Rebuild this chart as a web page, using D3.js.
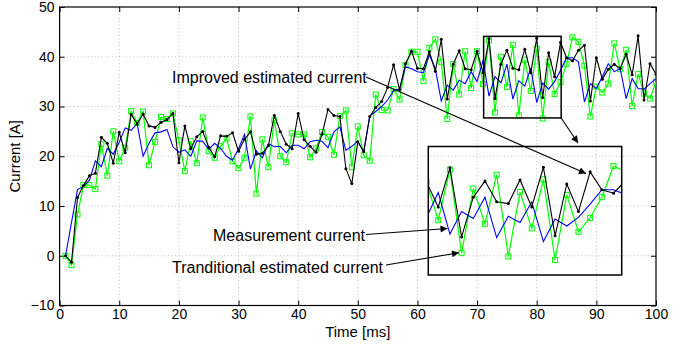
<!DOCTYPE html>
<html><head><meta charset="utf-8">
<script src="https://cdn.jsdelivr.net/npm/d3@7"></script>
<style>
body{margin:0;background:#fff}
text{font-family:"Liberation Sans",Arial,Helvetica,sans-serif;fill:#000}
</style>
</head><body>
<svg id="chart" width="695" height="346"></svg>
<script>
// ---------------- data ----------------
const time = d3.range(1, 101);
const measurement = [0,-1.9,8.3,14.2,14.2,13.4,22.4,16.1,25.0,19.0,
 21.7,29.1,26.7,29.0,18.2,22.9,27.9,27.5,28.6,23.2,
 17.0,23.0,18.6,27.8,21.0,19.7,22.0,23.6,19.0,17.6,
 19.7,28.0,12.5,23.4,17.8,27.2,20.0,18.8,24.6,24.4,
 24.4,19.8,21.6,24.9,23.9,20.3,28.1,29.2,17.8,26.0,
 20.2,19.1,32.4,29.3,29.2,33.5,31.4,38.3,41.0,41.0,
 35.1,41.8,43.5,38.9,27.5,38.5,32.4,41.1,33.7,41.1,
 34.5,43.3,28.8,40.0,33.9,42.4,28.2,39.4,33.1,41.6,
 27.6,38.9,32.5,34.9,38.5,43.9,43.0,38.2,28.0,34.0,
 32.8,34.6,42.7,37.5,41.4,30.1,36.5,32.6,31.6,35.0];
const traditional = [0,6.7,13.3,13.9,15.2,19.1,17.9,21.6,20.4,22.8,
 25.7,25.2,26.6,20.0,22.6,24.7,24.9,25.4,21.9,20.8,
 21.3,20.0,23.1,23.0,21.4,22.6,21.6,20.0,19.2,21.5,
 24.4,17.4,21.1,19.7,22.5,21.9,22.0,20.7,22.2,22.2,
 21.5,22.9,23.2,23.0,21.7,24.9,25.9,21.2,22.0,23.0,
 20.9,28.1,29.0,30.0,31.3,33.2,33.5,38.0,37.6,37.0,
 36.8,40.4,37.6,31.1,34.3,33.3,35.3,34.6,37.0,35.0,
 39.3,32.1,36.0,34.8,38.5,31.5,35.2,34.1,37.7,30.8,
 34.7,33.5,35.0,37.3,39.8,39.8,39.0,30.9,34.6,33.6,
 36.0,38.6,37.0,37.6,31.6,35.6,33.6,33.5,34.6,35.6];
const improved = [0,-1.3,11.7,14.1,16.1,16.6,23.8,22.6,18.6,24.8,
 20.7,28.4,26.5,28.5,26.1,25.8,26.8,27.4,28.6,18.7,
 26.1,21.5,23.9,25.0,21.8,19.9,24.1,24.0,24.7,21.0,
 23.4,24.9,20.4,20.6,22.1,28.2,25.0,22.4,21.5,28.6,
 23.3,22.0,20.8,24.4,29.4,28.2,28.0,17.5,14.5,22.9,
 20.9,28.0,29.8,31.0,33.8,38.4,33.4,38.6,41.1,37.7,
 37.6,41.0,37.1,43.5,31.5,38.5,41.2,37.6,37.4,41.1,
 36.8,43.6,31.6,38.5,41.3,37.7,37.4,41.5,36.8,43.7,
 31.8,40.8,36.0,42.9,39.8,39.2,41.3,42.3,31.1,39.8,
 35.5,37.5,38.5,37.6,40.5,36.4,44.2,31.3,38.6,36.5];
const xTicks = [0,10,20,30,40,50,60,70,80,90,100];
const yTicks = [-10,0,10,20,30,40,50];
const xLabel = "Time [ms]";
const yLabel = "Current [A]";
const zoomWindow = {x: [71.1, 84.1], y: [27.7, 44.1]};
const insetDomain = {x: [70.15, 86.7], y: [25.0, 47.3]};
const labelImproved = "Improved estimated current";
const labelMeasurement = "Measurement current";
const labelTraditional = "Tranditional estimated current";

// ---------------- layout ----------------
const svg = d3.select("#chart");
const M = {l: 59.6, r: 656, t: 7, b: 305.5};
const x = d3.scaleLinear().domain([0, 100]).range([M.l, M.r]);
const y = d3.scaleLinear().domain([-10, 50]).range([M.b, M.t]);

const GREEN = "#00ff00", BLUE = "#0000ff", BLACK = "#000000";

svg.append("defs").append("marker")
  .attr("id", "ah").attr("viewBox", "0 0 10 10").attr("refX", 10).attr("refY", 5)
  .attr("markerWidth", 10).attr("markerHeight", 7).attr("markerUnits", "userSpaceOnUse")
  .attr("orient", "auto")
  .append("path").attr("d", "M0,0 L10,5 L0,10 Z").attr("fill", "#000");

// grid
const grid = svg.append("g").attr("stroke", "#b4b4b4").attr("stroke-width", 0.8)
  .attr("stroke-dasharray", "1,2.5");
xTicks.slice(1, -1).forEach(t => grid.append("line")
  .attr("x1", x(t)).attr("x2", x(t)).attr("y1", M.t).attr("y2", M.b));
yTicks.slice(1, -1).forEach(t => grid.append("line")
  .attr("y1", y(t)).attr("y2", y(t)).attr("x1", M.l).attr("x2", M.r));

// axes with inward ticks on all four sides
function styleAxis(g) {
  g.select(".domain").remove();
  g.selectAll(".tick line").attr("stroke", "#000");
  g.selectAll(".tick text").attr("font-size", 14).attr("fill", "#000")
    .attr("font-family", "'Liberation Sans Narrow','Liberation Sans',Arial,sans-serif");
}
svg.append("g").attr("transform", `translate(0,${M.b})`)
  .call(d3.axisBottom(x).tickValues(xTicks).tickSize(-5).tickPadding(4)
    .tickFormat(d3.format("d"))).call(styleAxis);
svg.append("g").attr("transform", `translate(0,${M.t})`)
  .call(d3.axisTop(x).tickValues(xTicks).tickSize(-5).tickFormat("")).call(styleAxis);
svg.append("g").attr("transform", `translate(${M.l},0)`)
  .call(d3.axisLeft(y).tickValues(yTicks).tickSize(-5).tickPadding(5)
    .tickFormat(d => d < 0 ? "\u2212" + Math.abs(d) : d)).call(styleAxis);
svg.append("g").attr("transform", `translate(${M.r},0)`)
  .call(d3.axisRight(y).tickValues(yTicks).tickSize(-5).tickFormat("")).call(styleAxis);

svg.append("rect").attr("x", M.l).attr("y", M.t).attr("width", M.r - M.l)
  .attr("height", M.b - M.t).attr("fill", "none").attr("stroke", "#000").attr("stroke-width", 1.2);

// axis labels
svg.append("text").attr("x", (M.l + M.r) / 2).attr("y", 337).attr("text-anchor", "middle")
  .attr("font-size", 15).text(xLabel);
svg.append("text").attr("transform", `translate(20,${(M.t + M.b) / 2}) rotate(-90)`)
  .attr("text-anchor", "middle").attr("font-size", 15).text(yLabel);

// series drawing helper
function drawSeries(g, xs, ys) {
  const ptsM = time.map((t, i) => [t, measurement[i]]);
  const ptsT = time.map((t, i) => [t, traditional[i]]);
  const ptsI = time.map((t, i) => [t, improved[i]]);
  const line = d3.line().x(d => xs(d[0])).y(d => ys(d[1]));
  g.append("path").datum(ptsM).attr("d", line).attr("fill", "none")
    .attr("stroke", GREEN).attr("stroke-width", 1.2);
  g.selectAll(null).data(ptsM).enter().append("rect")
    .attr("x", d => xs(d[0]) - 2.5).attr("y", d => ys(d[1]) - 2.5)
    .attr("width", 5).attr("height", 5).attr("fill", "none")
    .attr("stroke", GREEN).attr("stroke-width", 1);
  g.append("path").datum(ptsT).attr("d", line).attr("fill", "none")
    .attr("stroke", BLUE).attr("stroke-width", 1.1);
  g.append("path").datum(ptsI).attr("d", line).attr("fill", "none")
    .attr("stroke", BLACK).attr("stroke-width", 1.1);
  g.selectAll(null).data(ptsI).enter().append("circle")
    .attr("cx", d => xs(d[0])).attr("cy", d => ys(d[1])).attr("r", 1.5).attr("fill", BLACK);
}

svg.append("clipPath").attr("id", "mainclip").append("rect")
  .attr("x", M.l).attr("y", M.t).attr("width", M.r - M.l).attr("height", M.b - M.t);
drawSeries(svg.append("g").attr("clip-path", "url(#mainclip)"), x, y);

// zoom window rectangle
svg.append("rect").attr("x", x(zoomWindow.x[0])).attr("y", y(zoomWindow.y[1]))
  .attr("width", x(zoomWindow.x[1]) - x(zoomWindow.x[0]))
  .attr("height", y(zoomWindow.y[0]) - y(zoomWindow.y[1]))
  .attr("fill", "none").attr("stroke", "#000").attr("stroke-width", 1.5);

// inset
const I = {l: 428.3, r: 621.7, t: 146.5, b: 275};
const xi = d3.scaleLinear().domain(insetDomain.x).range([I.l, I.r]);
const yi = d3.scaleLinear().domain(insetDomain.y).range([I.b, I.t]);
svg.append("clipPath").attr("id", "insetclip").append("rect")
  .attr("x", I.l).attr("y", I.t).attr("width", I.r - I.l).attr("height", I.b - I.t);
drawSeries(svg.append("g").attr("clip-path", "url(#insetclip)"), xi, yi);
svg.append("rect").attr("x", I.l).attr("y", I.t).attr("width", I.r - I.l).attr("height", I.b - I.t)
  .attr("fill", "none").attr("stroke", "#000").attr("stroke-width", 1.5);

// annotations
function arrow(x1, y1, x2, y2, head) {
  const l = svg.append("line").attr("x1", x1).attr("y1", y1).attr("x2", x2).attr("y2", y2)
    .attr("stroke", "#000").attr("stroke-width", 1.1);
  if (head) l.attr("marker-end", "url(#ah)");
}
svg.append("text").attr("x", 172).attr("y", 83).attr("font-size", 16).text(labelImproved);
arrow(366, 77, 586, 173.5, true);
svg.append("text").attr("x", 213).attr("y", 241).attr("font-size", 16).text(labelMeasurement);
arrow(366, 234.5, 447.5, 228.5, true);
svg.append("text").attr("x", 172).attr("y", 273).attr("font-size", 16).text(labelTraditional);
arrow(386, 265, 459, 252.7, true);
arrow(x(zoomWindow.x[1]), y(zoomWindow.y[0]), 578, 143, true);
</script>
</body></html>
